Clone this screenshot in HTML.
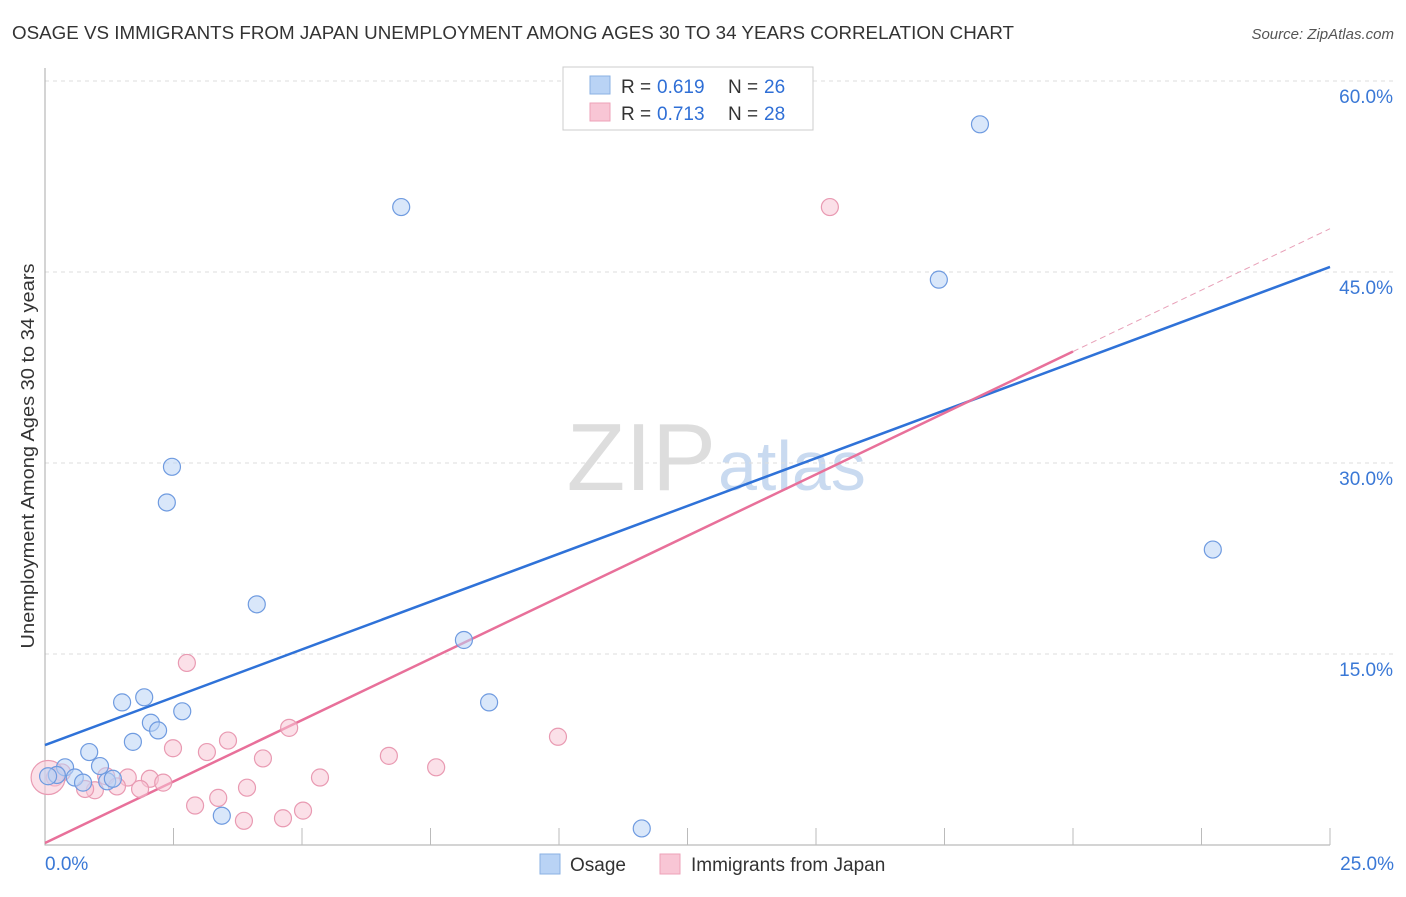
<!DOCTYPE html>
<html><head><meta charset="utf-8"><style>
body{margin:0;background:#fff;font-family:"Liberation Sans",sans-serif;}
svg text{font-family:"Liberation Sans",sans-serif;}
</style></head><body>
<svg id="chart" width="1406" height="892" xmlns="http://www.w3.org/2000/svg">
<text x="12" y="39" font-size="18" fill="#333" textLength="1002" lengthAdjust="spacingAndGlyphs">OSAGE VS IMMIGRANTS FROM JAPAN UNEMPLOYMENT AMONG AGES 30 TO 34 YEARS CORRELATION CHART</text>
<text x="1394" y="39" font-size="15" fill="#555" font-style="italic" text-anchor="end">Source: ZipAtlas.com</text>
<text x="716" y="490" font-size="96" text-anchor="end" fill="#ddd" font-family="Liberation Serif">ZIP</text>
<text x="718" y="490" font-size="70" fill="#c9daf0">atlas</text>
<text transform="translate(34,456) rotate(-90)" font-size="18" fill="#333" text-anchor="middle" textLength="385" lengthAdjust="spacingAndGlyphs">Unemployment Among Ages 30 to 34 years</text>
<g id="grid"></g><g id="axes"></g><g id="lines"></g><g id="pts"></g>
<g>
<rect x="563" y="67" width="250" height="63" fill="#fff" stroke="#ccc"/>
<rect x="590" y="76" width="20" height="18" fill="#b9d3f5" stroke="#8ab0e3"/>
<rect x="590" y="103" width="20" height="18" fill="#f8c6d5" stroke="#eea2b8"/>
<text x="621" y="93" font-size="19" fill="#333">R =</text><text x="657" y="93" font-size="19" fill="#2f6fd6">0.619</text>
<text x="728" y="93" font-size="19" fill="#333">N =</text><text x="764" y="93" font-size="19" fill="#2f6fd6">26</text>
<text x="621" y="120" font-size="19" fill="#333">R =</text><text x="657" y="120" font-size="19" fill="#2f6fd6">0.713</text>
<text x="728" y="120" font-size="19" fill="#333">N =</text><text x="764" y="120" font-size="19" fill="#2f6fd6">28</text>
</g>
<g>
<rect x="540" y="854" width="20" height="20" fill="#b9d3f5" stroke="#8ab0e3"/>
<text x="570" y="871" font-size="19" fill="#333">Osage</text>
<rect x="660" y="854" width="20" height="20" fill="#f8c6d5" stroke="#eea2b8"/>
<text x="691" y="871" font-size="19" fill="#333">Immigrants from Japan</text>
</g>
</svg>
<script>
const yTicks=[15,30,45,60];
const yTickLabels=["15.0%","30.0%","45.0%","60.0%"];
const xTicks=[2.5,5,7.5,10,12.5,15,17.5,20,22.5,25];
const osageX=[6.93,18.19,17.39,2.47,2.37,4.12,8.15,8.64,22.72,1.50,1.93,2.67,2.06,2.20,1.71,0.86,1.07,0.39,0.23,0.58,0.74,1.21,1.32,3.44,11.61,0.06];
const osageY=[50.1,56.6,44.4,29.7,26.9,18.9,16.1,11.2,23.2,11.2,11.6,10.5,9.6,9.0,8.1,7.3,6.2,6.1,5.5,5.3,4.9,5.0,5.2,2.3,1.3,5.4];
const japanX=[15.27,2.76,4.75,9.98,2.49,3.56,3.15,4.24,6.69,7.61,5.35,1.61,2.04,2.30,1.19,1.40,0.97,0.78,0.33,0.19,0.06,3.93,3.37,2.92,5.02,3.87,4.63,1.85];
const japanY=[50.1,14.3,9.2,8.5,7.6,8.2,7.3,6.8,7.0,6.1,5.3,5.3,5.2,4.9,5.4,4.6,4.3,4.4,5.7,5.3,5.3,4.5,3.7,3.1,2.7,1.9,2.1,4.4];
const japanSize=[1,1,1,1,1,1,1,1,1,1,1,1,1,1,1,1,1,1,1,1,2,1,1,1,1,1,1,1];
const osageTrend=[7.85,45.4];
const japanTrend=[0.16,48.4];
const japanSolidEnd=20;
const X=v=>45+v/25*1285, Y=v=>845-v/15*191;
const NS="http://www.w3.org/2000/svg";
function mk(p,t,a){const e=document.createElementNS(NS,t);for(const k in a)e.setAttribute(k,a[k]);document.getElementById(p).appendChild(e);return e;}
yTicks.forEach((t,i)=>{
 const l=mk('grid','line',{x1:45,x2:1394,y1:Y(t),y2:Y(t),stroke:'#ddd','stroke-dasharray':'4,4'});
 
 
 const tx=mk('grid','text',{x:1393,y:Y(t)+22,'font-size':19,fill:'#3a78d6','text-anchor':'end'});
 tx.textContent=yTickLabels[i];
 
 
});
const ax=mk('axes','path',{d:'M45,68V845H1330',stroke:'#aaa',fill:'none'});


xTicks.forEach(t=>{const l=mk('axes','line',{x1:X(t),x2:X(t),y1:828,y2:845,stroke:'#bbb'});
 
 });
let t0=mk('axes','text',{x:45,y:870,'font-size':19,fill:'#3a78d6'});t0.textContent='0.0%';


let t1=mk('axes','text',{x:1394,y:870,'font-size':19,fill:'#3a78d6','text-anchor':'end'});t1.textContent='25.0%';


function draw(xs,ys,fill,stroke,name,sz){xs.forEach((x,i)=>{const c=mk('pts','circle',{cx:X(x),cy:Y(ys[i]),r:8.5*(sz?sz[i]:1),fill:fill,stroke:stroke,'fill-opacity':0.55,'stroke-width':1.2});
 
 });}
draw(japanX,japanY,'#f8c6d5','#e99ab2','japan-point',japanSize);
draw(osageX,osageY,'#b9d3f5','#6f9be0','osage-point');
const jy=x=>japanTrend[0]+(japanTrend[1]-japanTrend[0])*x/25;
let l1=mk('lines','line',{x1:X(0),y1:Y(osageTrend[0]),x2:X(25),y2:Y(osageTrend[1]),stroke:'#2f72d8','stroke-width':2.5});


let l2=mk('lines','line',{x1:X(0),y1:Y(jy(0)),x2:X(japanSolidEnd),y2:Y(jy(japanSolidEnd)),stroke:'#e8709a','stroke-width':2.5});


let l3=mk('lines','line',{x1:X(japanSolidEnd),y1:Y(jy(japanSolidEnd)),x2:X(25),y2:Y(jy(25)),stroke:'#e8a0b8','stroke-width':1,'stroke-dasharray':'6,4'});


</script>
</body></html>
